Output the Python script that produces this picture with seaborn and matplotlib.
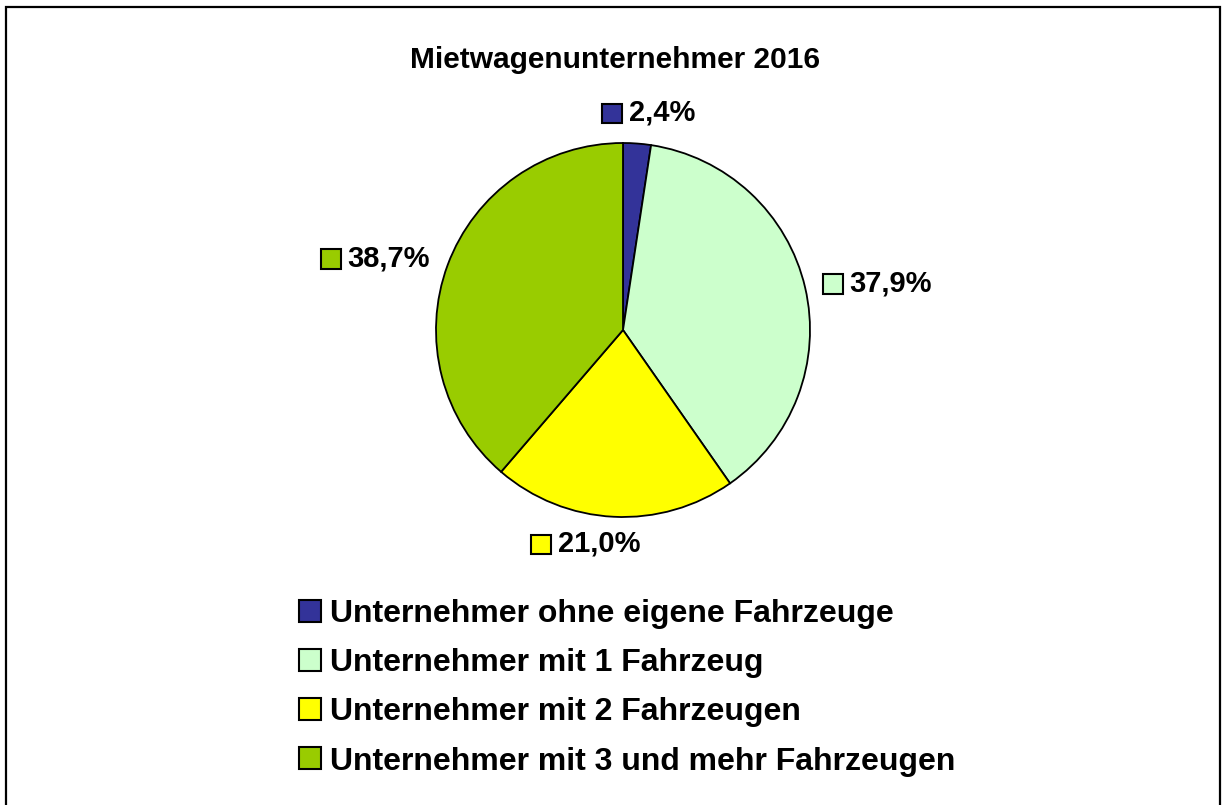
import matplotlib
matplotlib.use("Agg")
import matplotlib.pyplot as plt
import seaborn as sns
from matplotlib.patches import Patch, Rectangle
from matplotlib.offsetbox import DrawingArea, TextArea, HPacker, AnnotationBbox
import numpy as np

title = "Mietwagenunternehmer 2016"
categories = [
    "Unternehmer ohne eigene Fahrzeuge",
    "Unternehmer mit 1 Fahrzeug",
    "Unternehmer mit 2 Fahrzeugen",
    "Unternehmer mit 3 und mehr Fahrzeugen",
]
values = [2.4, 37.9, 21.0, 38.7]
labels = ["2,4%", "37,9%", "21,0%", "38,7%"]
colors = ["#333399", "#CCFFCC", "#FFFF00", "#99CC00"]

sns.set_theme(style="white")
plt.rcParams["font.family"] = ["Liberation Sans", "DejaVu Sans"]
plt.rcParams["text.color"] = "black"

W, H = 1222, 805
fig = plt.figure(figsize=(W / 100, H / 100), dpi=100)
fig.patch.set_facecolor("white")

# outer frame
fig.patches.append(Rectangle((6 / W, -0.05), (1220 - 6) / W, 1.05 - 7 / H,
                             transform=fig.transFigure, fill=False,
                             edgecolor="black", linewidth=1.6))

cx, cy, r = 623, 330, 187
ax = fig.add_axes([(cx - r) / W, (H - cy - r) / H, 2 * r / W, 2 * r / H])
wedges, _ = ax.pie(values, colors=colors, startangle=90, counterclock=False,
                   wedgeprops=dict(edgecolor="black", linewidth=1.3))
ax.set_xlim(-1, 1)
ax.set_ylim(-1, 1)
ax.set_aspect("equal")
ax.axis("off")

fig.text(615 / W, 1 - 60 / H, title, ha="center", va="center",
         fontsize=21.5, fontweight="bold", color="black")

# data labels with colour square
for w, lab, col in zip(wedges, labels, colors):
    ang = np.deg2rad((w.theta1 + w.theta2) / 2)
    c, s = np.cos(ang), np.sin(ang)
    if abs(c) > 0.5:
        rr = 1.1
        align = (0.0, 0.5) if c > 0 else (1.0, 0.5)
    elif s > 0:
        rr = 1.09
        align = (0.39, 0.0)
    else:
        rr = 1.07
        align = (0.75, 1.0)
    x, y = rr * c, rr * s
    da = DrawingArea(15, 15, 0, 0)
    da.add_artist(Rectangle((0, 0), 14, 14, facecolor=col, edgecolor="black", linewidth=1.5))
    ta = TextArea(lab, textprops=dict(fontsize=21, fontweight="bold", color="black"))
    box = HPacker(children=[da, ta], align="center", pad=0, sep=4)
    ab = AnnotationBbox(box, (x, y), xycoords="data", box_alignment=align,
                        frameon=False, annotation_clip=False, pad=0)
    ax.add_artist(ab)

handles = [Patch(facecolor=c, edgecolor="black", linewidth=1.5) for c in colors]
leg = fig.legend(handles, categories, loc="upper left",
                 bbox_to_anchor=(299 / W, 1 - 599 / H), frameon=False,
                 prop=dict(size=23, weight="bold"), handlelength=0.68, handleheight=0.68,
                 handletextpad=0.3, labelspacing=0.6, borderaxespad=0, borderpad=0)
for t in leg.get_texts():
    t.set_color("black")

fig.savefig("out.png", dpi=100)
